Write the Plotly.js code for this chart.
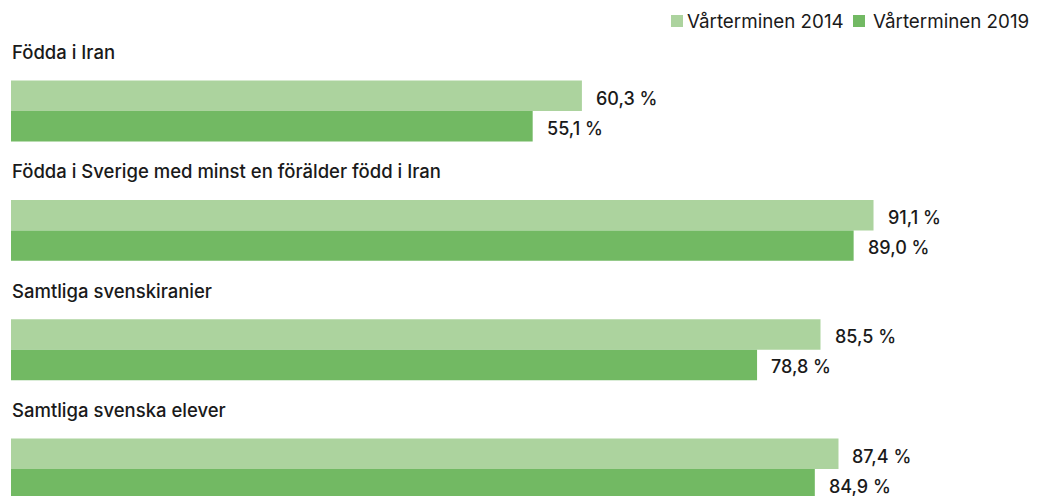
<!DOCTYPE html>
<html>
<head>
<meta charset="utf-8">
<script src="https://cdn.plot.ly/plotly-3.0.1.min.js"></script>
<style>html,body{margin:0;padding:0;background:#fff;}#chart{width:1043px;height:496px;}</style>
</head>
<body>
<div id="chart"></div>
<script>
const categories = ["Födda i Iran", "Födda i Sverige med minst en förälder född i Iran", "Samtliga svenskiranier", "Samtliga svenska elever"];
const seriesNames = ["Vårterminen 2014", "Vårterminen 2019"];
const values2014 = [60.3, 91.1, 85.5, 87.4];
const values2019 = [55.1, 89.0, 78.8, 84.9];

const colors = ["#acd39e", "#72b963"];
const fontFam = "Inter, 'Noto Sans', sans-serif";
const textColor = '#1a1a1a';
const fmt = v => v.toFixed(1).replace('.', ',') + ' %';

const traces = [values2014, values2019].map((vals, i) => ({
  type: 'bar',
  orientation: 'h',
  name: seriesNames[i],
  x: vals,
  y: categories,
  marker: {color: colors[i]},
  hoverinfo: 'skip'
}));

// plot-area geometry helpers (pixel -> paper)
const W = 1043, H = 496, mL = 11, mR = 0, mT = 70, mB = 0;
const pw = W - mL - mR, ph = H - mT - mB;
const px = p => (p - mL) / pw;
const py = p => (H - mB - p) / ph;

const annotations = [];
categories.forEach((c) => {
  annotations.push({
    xref: 'x', yref: 'y', x: 0, y: c, text: c,
    xanchor: 'left', yanchor: 'middle', yshift: 59, xshift: -1, showarrow: false,
    font: {family: fontFam, size: 18.5, weight: 500, color: textColor}
  });
});
[values2014, values2019].forEach((vals, i) => {
  vals.forEach((v, j) => {
    annotations.push({
      xref: 'x', yref: 'y', x: v, y: categories[j], text: fmt(v),
      xanchor: 'left', yanchor: 'middle', xshift: 12, yshift: i === 0 ? 13 : -17,
      showarrow: false,
      font: {family: fontFam, size: 18, weight: 500, color: textColor}
    });
  });
});

// custom legend (swatch + label) to match the compact reference spacing
const legendSwatchX = [671, 853];
const legendTextX = [685, 871];
const shapes = [];
seriesNames.forEach((n, i) => {
  shapes.push({
    type: 'rect', xref: 'paper', yref: 'paper', layer: 'above',
    x0: px(legendSwatchX[i]), x1: px(legendSwatchX[i] + 12),
    y0: py(27), y1: py(15),
    fillcolor: colors[i], line: {width: 0}
  });
  annotations.push({
    xref: 'paper', yref: 'paper', x: px(legendTextX[i]), y: py(21), text: n,
    xanchor: 'left', yanchor: 'middle', showarrow: false,
    font: {family: fontFam, size: 18.8, color: textColor}
  });
});

const layout = {
  width: W, height: H,
  margin: {l: mL, r: mR, t: mT, b: mB},
  paper_bgcolor: '#fff', plot_bgcolor: '#fff',
  barmode: 'group', bargap: 0.489, bargroupgap: 0,
  xaxis: {range: [0, 109], visible: false, fixedrange: true},
  yaxis: {type: 'category', range: [3.226, -0.344], visible: false, fixedrange: true},
  showlegend: false,
  annotations: annotations,
  shapes: shapes,
  font: {family: fontFam}
};

Plotly.newPlot('chart', traces, layout, {displayModeBar: false, staticPlot: true});
</script>
</body>
</html>
